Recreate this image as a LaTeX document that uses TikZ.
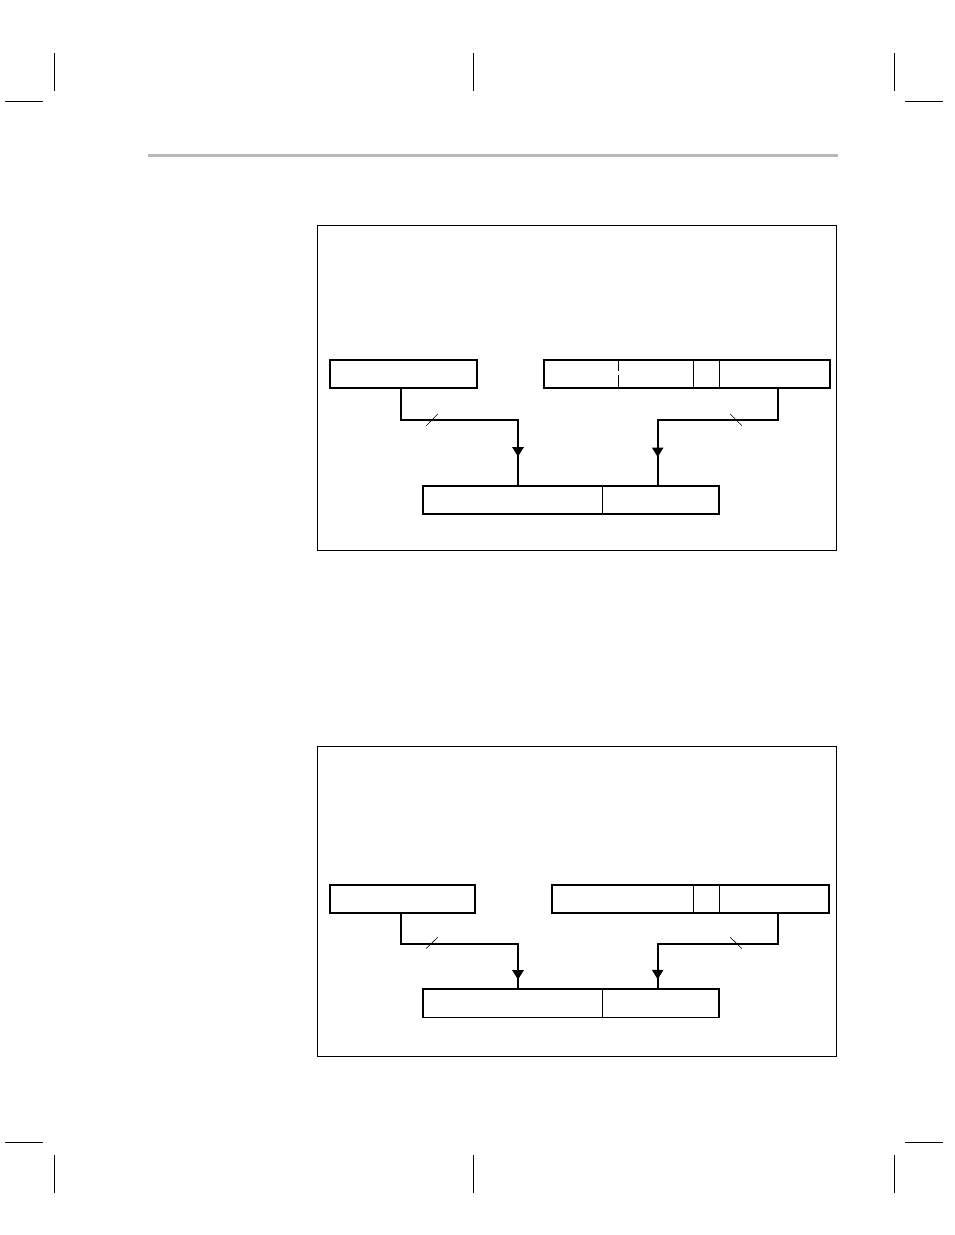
\documentclass[tikz,border=0pt]{standalone}
\usetikzlibrary{arrows.meta,decorations.markings}
\tikzset{
	regbox/.style={draw, rectangle, inner sep=0pt, line width=1.7pt, anchor=north west},
	conn/.style={line width=2.3pt},
	midtip/.style={postaction={decorate}, decoration={markings, mark=at position #1 with {\arrow{Triangle[width=11pt,length=9.5pt]}}}},
	tick/.style={line width=0.6pt},
	sep/.style={line width=1pt},
	crop/.style={line width=0.9pt},
	frame/.style={line width=0.9pt}
}

\begin{document}
\begin{tikzpicture}[x=1pt, y=-1pt]
			\useasboundingbox (0,0) rectangle (954,1235);
			%%%%% PAGE %%%%%
			\draw[crop] (54,53) -- (54,91);
			\draw[crop] (473,53) -- (473,91);
			\draw[crop] (894,53) -- (894,91);
			\draw[crop] (5,101) -- (43,101);
			\draw[crop] (905,101) -- (943,101);
			\draw[crop] (54,1155) -- (54,1193);
			\draw[crop] (473,1155) -- (473,1193);
			\draw[crop] (894,1155) -- (894,1193);
			\draw[crop] (5,1142) -- (43,1142);
			\draw[crop] (905,1142) -- (943,1142);
			\fill[black!28] (148,153.5) rectangle (838,156.5);
			
			%%%%% TOP %%%%%
			\draw[frame] (317,225) rectangle (836,550);
			
			\node[regbox, minimum width=147pt, minimum height=28pt] (ptrA) at (329,359) {};
			\node[regbox, line width=2.4pt, minimum width=286pt, minimum height=28pt] (regA) at (543,359) {};
			\draw[sep] (618,359) -- (618,370.5);
			\draw[sep] (618.4,375) -- (618.4,387);
			\draw[sep] (693.7,359) -- (693.7,387);
			\draw[sep] (719.3,359) -- (719.3,387);
			
			\node[regbox, minimum width=296pt, minimum height=28pt] (addrA) at (422,485) {};
			\draw[sep] (602.7,485) -- (602.7,513);
			
			\coordinate (bendA1) at (401,420);
			\coordinate (bendA2) at (518,420);
			\coordinate (bendA3) at (778,420);
			\coordinate (bendA4) at (657.7,420);
			\draw[conn, midtip=185pt] (ptrA.south -| bendA1) -- (bendA1) -- (bendA2) -- (addrA.north -| bendA2);
			\draw[conn, midtip=188pt] (regA.south -| bendA3) -- (bendA3) -- (bendA4) -- (addrA.north -| bendA4);
			\draw[tick] (426.3,425.7) -- (437.7,414);
			\draw[tick] (730.3,414) -- (742,425.7);
			
			%%%%% BOTTOM %%%%%
			\draw[frame] (317,746) rectangle (836,1056);
			
			\node[regbox, minimum width=145pt, minimum height=28pt] (ptrB) at (329,884) {};
			\node[regbox, minimum width=277pt, minimum height=28pt] (regB) at (551,884) {};
			\draw[sep] (693.7,884) -- (693.7,912);
			\draw[sep] (719.3,884) -- (719.3,912);
			
			\node[regbox, minimum width=296pt, minimum height=28.3pt] (addrB) at (422,988.3) {};
			\draw[sep] (602.7,988.3) -- (602.7,1016.6);
			
			\coordinate (bendB1) at (401,944);
			\coordinate (bendB2) at (518,944);
			\coordinate (bendB3) at (778,944);
			\coordinate (bendB4) at (657.7,944);
			\draw[conn, midtip=183pt] (ptrB.south -| bendB1) -- (bendB1) -- (bendB2) -- (addrB.north -| bendB2);
			\draw[conn, midtip=186pt] (regB.south -| bendB3) -- (bendB3) -- (bendB4) -- (addrB.north -| bendB4);
			\draw[tick] (426.3,948.3) -- (437.7,937.3);
			\draw[tick] (730.3,937.3) -- (742,948.7);
\end{tikzpicture}
\end{document}
